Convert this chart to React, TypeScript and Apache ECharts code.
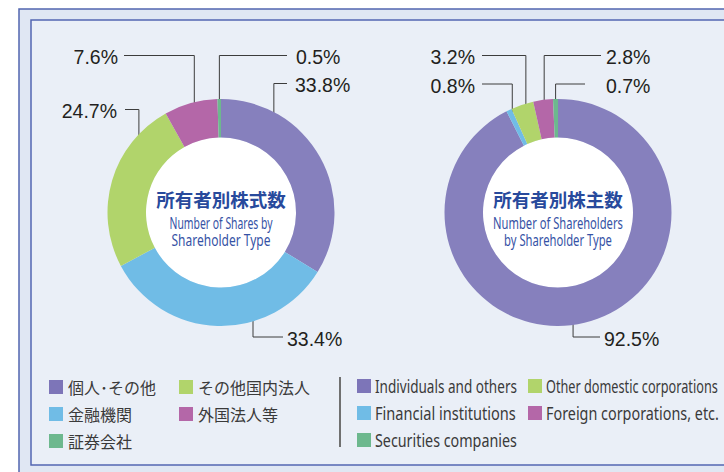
import React, { useEffect, useRef } from 'react';
import * as echarts from 'echarts';

// ---------- data ----------
const categoriesJa = ['個人･その他', '金融機関', 'その他国内法人', '外国法人等', '証券会社'];
const categoriesEn = [
  'Individuals and others',
  'Financial institutions',
  'Other domestic corporations',
  'Foreign corporations, etc.',
  'Securities companies',
];
const sharesPct = [33.8, 33.4, 24.7, 7.6, 0.5];
const holdersPct = [92.5, 0.8, 3.2, 2.8, 0.7];
const titlesJa = ['所有者別株式数', '所有者別株主数'];
const titlesEn = [
  ['Number of Shares by', 'Shareholder Type'],
  ['Number of Shareholders', 'by Shareholder Type'],
];

// ---------- styles / layout ----------
const sliceColors = ['#8680bd', '#70bce6', '#b1d46b', '#b467a8', '#6db88e'];
const legendColors = ['#7d75b8', '#70bce6', '#b1d46b', '#b467a8', '#6db88e'];
const CENTERS: [number, number][] = [
  [221, 212.5],
  [558, 212.5],
];
const R_IN = 75;
const R_OUT = 113.5;
const HUMANIST = "'Noto Sans', 'Open Sans', sans-serif";
const CJK = "'Noto Sans CJK JP', sans-serif";
const CENTER_EN_SIZE = 15.5;
// rendered widths of the condensed English texts (px)
const centerEnWidths = [
  [103, 99],
  [130, 108],
];
const LEGEND_EN_SIZE = 18;
const legendEnWidths = [142, 141, 172, 173, 142];

type LabelCfg = { angle: number | null; r: number; dy: number; dx: number; tx: number; side: 'left' | 'right' };
// angle: anchor direction (deg clockwise from 12 o'clock), null = middle of slice
const labelCfgs: LabelCfg[][] = [
  [
    { angle: 33.4, r: 96, dy: -129, dx: 66, tx: 74, side: 'right' },
    { angle: 162, r: 103.6, dy: 124.5, dx: 62, tx: 66, side: 'right' },
    { angle: -53.6, r: 102, dy: -103, dx: -96, tx: -104, side: 'left' },
    { angle: null, r: 100, dy: -157, dx: -97, tx: -103, side: 'left' },
    { angle: null, r: 104, dy: -157, dx: 66, tx: 75, side: 'right' },
  ],
  [
    { angle: 171.3, r: 99.6, dy: 124.5, dx: 42, tx: 46, side: 'right' },
    { angle: null, r: 106, dy: -128.5, dx: -76, tx: -83, side: 'left' },
    { angle: null, r: 102, dy: -157, dx: -76, tx: -83, side: 'left' },
    { angle: null, r: 105, dy: -157, dx: 43, tx: 48, side: 'right' },
    { angle: null, r: 109, dy: -128.5, dx: 27, tx: 48, side: 'right' },
  ],
];
const legendSlotsJa: [number, number][] = [
  [49, 379],
  [49, 406],
  [179, 379],
  [179, 406],
  [49, 433],
];
const legendSlotsEn: [number, number][] = [
  [357, 379],
  [357, 406],
  [528, 379],
  [528, 406],
  [357, 433],
];

function midAngle(values: number[], idx: number): number {
  const total = values.reduce((a, b) => a + b, 0);
  let before = 0;
  for (let i = 0; i < idx; i++) before += values[i];
  return ((before + values[idx] / 2) / total) * 360;
}

let measureCtx: CanvasRenderingContext2D | null = null;
function fitScale(text: string, size: number, target: number): number {
  if (!measureCtx) measureCtx = document.createElement('canvas').getContext('2d');
  if (!measureCtx) return 0.75;
  measureCtx.font = `${size}px 'Noto Sans', 'Open Sans', sans-serif`;
  const w = measureCtx.measureText(text).width;
  return w > 0 ? target / w : 0.75;
}

function makeRing(chartIdx: number, values: number[]) {
  const [cx, cy] = CENTERS[chartIdx];
  const cfgs = labelCfgs[chartIdx];
  return {
    type: 'pie',
    center: [cx, cy],
    radius: [R_IN, R_OUT],
    startAngle: 90,
    clockwise: true,
    avoidLabelOverlap: false,
    silent: true,
    z: 2,
    data: values.map((v, i) => ({
      name: categoriesJa[i],
      value: v,
      itemStyle: { color: sliceColors[i] },
    })),
    label: {
      show: true,
      formatter: (p: any) => `${Number(p.value).toFixed(1)}%`,
      fontFamily: "'Liberation Sans', Arial, sans-serif",
      fontSize: 19.5,
      color: '#231f20',
    },
    labelLine: {
      show: true,
      length: 10,
      length2: 10,
      lineStyle: { color: '#3c3c3c', width: 1 },
    },
    labelLayout: (params: any) => {
      const c = cfgs[params.dataIndex];
      const ang = ((c.angle != null ? c.angle : midAngle(values, params.dataIndex)) * Math.PI) / 180;
      const ax = cx + c.r * Math.sin(ang);
      const ay = cy - c.r * Math.cos(ang);
      const ly = cy + c.dy;
      return {
        x: cx + c.tx,
        y: ly + 1.5,
        align: c.side === 'left' ? 'right' : 'left',
        verticalAlign: 'middle',
        labelLinePoints: [
          [ax, ay],
          [ax, ly],
          [cx + c.dx, ly],
        ],
      };
    },
  };
}

function makeDisc(chartIdx: number) {
  const [cx, cy] = CENTERS[chartIdx];
  return {
    type: 'pie',
    center: [cx, cy],
    radius: [0, R_IN],
    silent: true,
    z: 1,
    data: [{ name: '', value: 1, itemStyle: { color: '#ffffff' } }],
    label: { show: false },
    labelLine: { show: false },
  };
}

function makeCenterTitle(chartIdx: number) {
  const [cx, cy] = CENTERS[chartIdx];
  const enLine = (k: number, y: number) => {
    const text = titlesEn[chartIdx][k];
    return {
      type: 'text',
      z: 20,
      x: 0,
      y,
      scaleX: fitScale(text, CENTER_EN_SIZE, centerEnWidths[chartIdx][k]),
      style: {
        text,
        fontFamily: HUMANIST,
        fontSize: CENTER_EN_SIZE,
        fill: '#3552a5',
        align: 'center',
        verticalAlign: 'middle',
        textAlign: 'center',
        textVerticalAlign: 'middle',
      },
    };
  };
  return {
    type: 'group',
    x: cx,
    y: cy,
    z: 20,
    children: [
      {
        type: 'text',
        z: 20,
        x: 0,
        y: -13.8,
        style: {
          text: titlesJa[chartIdx],
          fontFamily: CJK,
          fontWeight: 'bold',
          fontSize: 18.5,
          fill: '#284a9c',
          align: 'center',
          verticalAlign: 'middle',
          textAlign: 'center',
          textVerticalAlign: 'middle',
        },
      },
      enLine(0, 10.5),
      enLine(1, 27.5),
    ],
  };
}

function makeLegends() {
  const legends: any[] = [];
  categoriesJa.forEach((name, i) => {
    legends.push({
      left: legendSlotsJa[i][0],
      top: legendSlotsJa[i][1],
      padding: 0,
      itemWidth: 14,
      itemHeight: 14,
      icon: 'rect',
      selectedMode: false,
      data: [{ name, itemStyle: { color: legendColors[i] } }],
      textStyle: { fontFamily: CJK, fontSize: 16, color: '#3a3a3a' },
    });
    legends.push({
      left: legendSlotsEn[i][0],
      top: legendSlotsEn[i][1],
      padding: 0,
      itemWidth: 14,
      itemHeight: 14,
      icon: 'rect',
      selectedMode: false,
      data: [{ name, itemStyle: { color: legendColors[i] } }],
      formatter: () => '',
    });
  });
  return legends;
}

function makeLegendTextsEn() {
  return categoriesEn.map((t, i) => ({
    type: 'text',
    z: 20,
    x: legendSlotsEn[i][0] + 18,
    y: legendSlotsEn[i][1] + 7.5,
    scaleX: fitScale(t, LEGEND_EN_SIZE, legendEnWidths[i]),
    style: {
      text: t,
      fontFamily: HUMANIST,
      fontSize: LEGEND_EN_SIZE,
      fill: '#3a3a3a',
      align: 'left',
      verticalAlign: 'middle',
      textAlign: 'left',
      textVerticalAlign: 'middle',
    },
  }));
}

export default function App() {
  const ref = useRef<HTMLDivElement>(null);
  useEffect(() => {
    if (!ref.current) return;
    const chart = echarts.init(ref.current, undefined, { renderer: 'svg' });
    chart.setOption({
      animation: false,
      backgroundColor: '#ffffff',
      graphic: [
        {
          type: 'rect',
          z: -10,
          shape: { x: 19, y: 9, width: 760, height: 500 },
          style: { fill: '#e0e7f3', stroke: '#5165b0', lineWidth: 1.5 },
        },
        {
          type: 'rect',
          z: -9,
          shape: { x: 31, y: 20, width: 740, height: 445 },
          style: { fill: '#eaeff7', stroke: '#5367b2', lineWidth: 1.5 },
        },
        {
          type: 'line',
          z: -8,
          shape: { x1: 340, y1: 377, x2: 340, y2: 447 },
          style: { stroke: '#707070', lineWidth: 2 },
        },
        makeCenterTitle(0),
        makeCenterTitle(1),
        ...makeLegendTextsEn(),
      ],
      legend: makeLegends(),
      series: [makeDisc(0), makeRing(0, sharesPct), makeDisc(1), makeRing(1, holdersPct)],
    });
    return () => chart.dispose();
  }, []);
  return <div ref={ref} style={{ position: 'absolute', left: 0, top: 0, width: 724, height: 472 }} />;
}
